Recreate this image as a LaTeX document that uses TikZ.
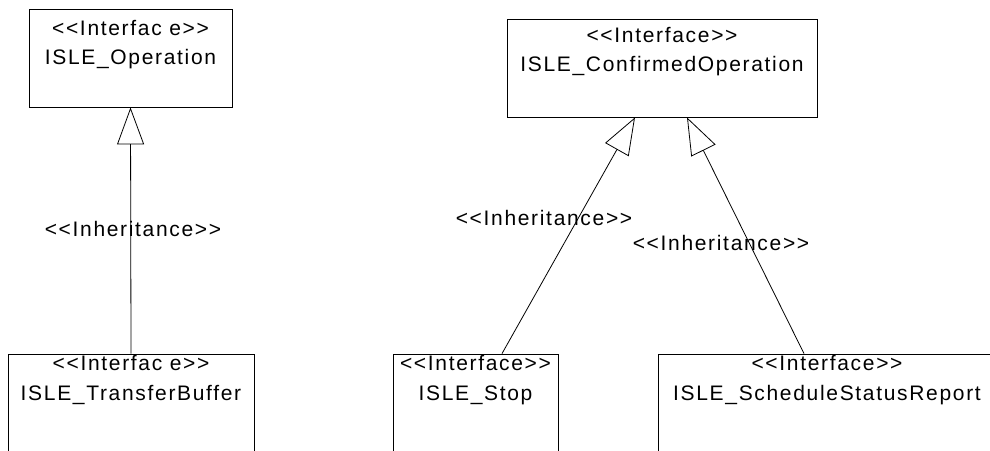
\documentclass[tikz,border=0pt]{standalone}
\usepackage{fontspec}
\usepackage{tikz}
\usetikzlibrary{arrows.meta,positioning}
\newfontfamily\umlfont[LetterSpace=8]{Liberation Sans}
\tikzstyle{line} = [draw, line width=0.8pt, -{Triangle[open, length=37pt, width=27pt, line width=0.8pt]}]
\tikzstyle{iface} = [draw, rectangle, line width=0.8pt, inner sep=0pt, minimum height=98pt]
\tikzstyle{ifacetext} = [inner sep=0pt, align=center, font=\umlfont\fontsize{21}{29.5}\selectfont]
\tikzstyle{stereo} = [inner sep=0pt, font=\umlfont\fontsize{21}{24}\selectfont]

\begin{document}
\begin{tikzpicture}[x=1pt, y=-1pt]
        \useasboundingbox (0,0) rectangle (990,450);
        \clip (0,0) rectangle (990,450);
        % parent interfaces
        \node[iface, minimum width=203pt] (op) at (130.5,58) {};
        \node[iface, minimum width=310pt] (conf) at (662,68) {};
        % child interfaces, cut at the bottom
        \node[iface, minimum width=246pt, minimum height=130pt] (buf) at (131,419) {};
        \node[iface, minimum width=165pt, minimum height=130pt] (stop) at (475.5,419) {};
        \node[iface, minimum width=338pt, minimum height=130pt] (sched) at (827,419) {};
        % box texts
        \node[ifacetext, below=11.5pt of op.north] (opText) {<<Interfac e>>\\ISLE\_Operation};
        \node[ifacetext, below=8.5pt of conf.north] (confText) {<<Interface>>\\ISLE\_ConfirmedOperation};
        \node[ifacetext, below=1.5pt of buf.north] (bufText) {<<Interfac e>>\\ISLE\_TransferBuffer};
        \node[ifacetext, below=1.5pt of stop.north] (stopText) {<<Interface>>\\ISLE\_Stop};
        \node[ifacetext, below=1.5pt of sched.north] (schedText) {<<Interface>>\\ISLE\_ScheduleStatusReport};
        % inheritance
        \path[line] (buf.north) -- (op.south);
        \path[line] ([xshift=26.5pt]stop.north) -- ([xshift=-27pt]conf.south);
        \path[line] ([xshift=-23pt]sched.north) -- ([xshift=25pt]conf.south);
        \node[stereo] (inhBuf) at (133,229) {<<Inheritance>>};
        \node[stereo] (inhStop) at (544,218) {<<Inheritance>>};
        \node[stereo] (inhSched) at (721,243) {<<Inheritance>>};
    \end{tikzpicture}
\end{document}
